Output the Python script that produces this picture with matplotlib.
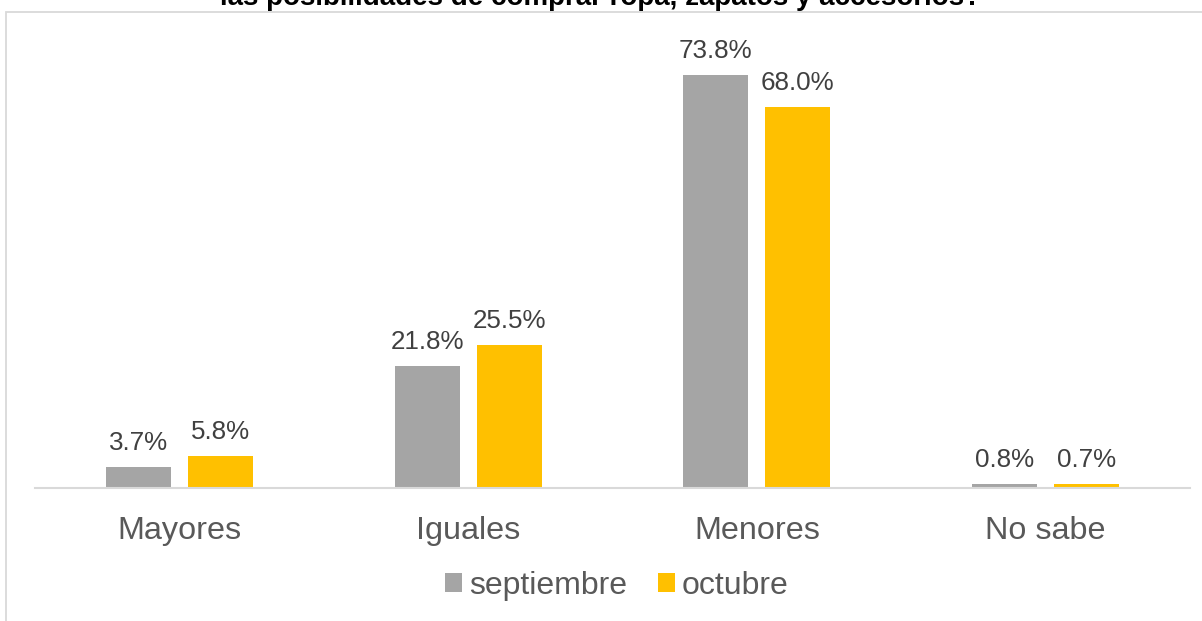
import matplotlib
matplotlib.use("Agg")
import matplotlib.pyplot as plt
from matplotlib.patches import Rectangle, Patch
import numpy as np

categories = ["Mayores", "Iguales", "Menores", "No sabe"]
septiembre = [3.7, 21.8, 73.8, 0.8]
octubre = [5.8, 25.5, 68.0, 0.7]
series_names = ["septiembre", "octubre"]
title = "las posibilidades de comprar ropa, zapatos y accesorios?"

GRAY = "#A5A5A5"
YELLOW = "#FFC000"
TXT = "#595959"
LBL = "#404040"
LINE = "#D9D9D9"

plt.rcParams["font.family"] = ["Liberation Sans", "DejaVu Sans"]

W, H = 1202, 621
fig = plt.figure(figsize=(W / 100, H / 100), dpi=100)

# chart border
fig.patches.append(Rectangle((5.5 / W, -0.1), 1.2, (H - 11.5) / H + 0.1,
                             transform=fig.transFigure, fill=False,
                             edgecolor=LINE, linewidth=1.3))

ax = fig.add_axes([35 / W, 133 / H, (1190 - 35) / W, (488 - 12) / H])
x = np.arange(len(categories))
bw = 0.225
off = 0.142
b1 = ax.bar(x - off, septiembre, bw, color=GRAY)
b2 = ax.bar(x + off, octubre, bw, color=YELLOW)

for bars, vals in ((b1, septiembre), (b2, octubre)):
    for r, v in zip(bars, vals):
        ax.annotate(f"{v:.1f}%", (r.get_x() + r.get_width() / 2, v),
                    xytext=(0, 12.2), textcoords="offset points",
                    ha="center", va="baseline", fontsize=18.7, color=LBL)

ax.set_xlim(-0.5, len(categories) - 0.5)
ax.set_ylim(0, 85)
ax.set_yticks([])
ax.set_xticks(x)
ax.set_xticklabels(categories, fontsize=23.3, color=TXT)
ax.tick_params(axis="x", length=0, pad=20)
for s in ("top", "right", "left"):
    ax.spines[s].set_visible(False)
ax.spines["bottom"].set_color(LINE)
ax.spines["bottom"].set_linewidth(1.5)

handles = [Patch(facecolor=GRAY), Patch(facecolor=YELLOW)]
fig.legend(handles, series_names, loc="center", bbox_to_anchor=(617 / W, (H - 586) / H),
           ncol=2, frameon=False, fontsize=23, labelcolor=TXT,
           handlelength=0.53, handleheight=0.53, handletextpad=0.22,
           columnspacing=0.95, borderpad=0)

fig.text(0.5, (H - 5) / H, title, ha="center", va="baseline",
         fontsize=20, fontweight="bold", color="black")

fig.savefig("out.png", dpi=100)
